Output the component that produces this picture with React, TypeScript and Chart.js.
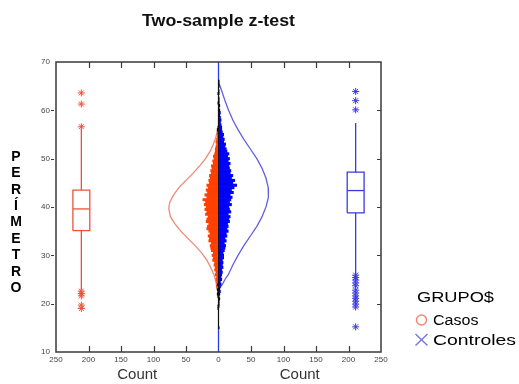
import React, { useEffect, useRef } from "react";
import { Chart, registerables } from "chart.js";

Chart.register(...registerables);

// ---------- text ----------
const TITLE = "Two-sample z-test";
const Y_TITLE = "PERÍMETRO";
const X_TITLE = "Count";
const LEGEND_TITLE = "GRUPO$";
const GROUP_NAMES = ["Casos", "Controles"];

// ---------- axes ----------
const X_TICKS = [-250, -200, -150, -100, -50, 0, 50, 100, 150, 200, 250];
const Y_TICKS = [10, 20, 30, 40, 50, 60, 70];

// ---------- histogram (bins of PERÍMETRO, starting at HIST_START, width HIST_STEP) ----------
const HIST_START = 15;
const HIST_STEP = 0.5;
const CASOS_COUNTS = [
  0, 0, 0, 0, 0, 0, 0, 0,
  1, 1, 0, 0, 0, 1, 2, 1, 2, 3, 2, 3, 4, 3, 5, 4, 6, 5, 7, 6, 9, 8,
  10, 8, 11, 12, 13, 11, 15, 14, 16, 13, 15, 18, 17, 15, 19, 18, 16, 20, 18, 21,
  19, 22, 20, 24, 18, 21, 17, 19, 16, 18, 14, 15, 13, 14, 11, 12, 10, 11, 8, 9,
  7, 8, 6, 5, 5, 4, 3, 4, 3, 2, 2, 1, 2, 1,
  0, 0, 0, 0, 0, 0, 0, 0, 0, 1, 0, 0, 0, 1, 0, 0, 0, 0, 0,
];
const CONTROLES_COUNTS = [
  1, 0, 0, 0, 0, 0, 0, 0, 0, 1,
  1, 1, 2, 1, 2, 3, 2, 3, 4, 3, 5, 4, 5, 6, 5, 7, 6, 7, 6, 8,
  8, 7, 9, 10, 11, 9, 12, 10, 13, 12, 15, 13, 15, 14, 17, 16, 18, 15, 19, 17,
  16, 20, 17, 19, 21, 18, 23, 20, 24, 28, 22, 25, 20, 22, 18, 19, 17, 16, 18, 15,
  17, 14, 16, 13, 12, 10, 11, 8, 9, 7, 8, 6, 5, 5, 4, 3, 4, 3, 2, 3,
  2, 1, 2, 1, 1, 1, 0, 1, 1, 0, 1, 1, 1,
];

// ---------- fitted normal curves (PERÍMETRO value, count) ----------
const CASOS_CURVE_VALUES = [56, 54.5, 53, 51.5, 50, 48.5, 47, 45.5, 44, 42.5, 41, 39.7, 38, 36.5, 35, 33.5, 32, 30.5, 29, 27.5, 26, 24.5, 23, 22.5];
const CASOS_CURVE_COUNTS = [1.5, 4, 8, 13, 20, 29, 39, 50, 61, 69, 75, 76.5, 74, 67, 58, 47, 36, 26, 18, 12, 7, 4, 2, 1];
const CONTROLES_CURVE_VALUES = [65.5, 64, 62, 60, 58, 56, 54, 52, 50, 48, 46, 44, 43, 42, 40, 38, 36, 34, 32, 30, 28, 26, 25, 24, 23.3];
const CONTROLES_CURVE_COUNTS = [1, 5, 10, 15.5, 22, 30, 39, 49, 59, 67, 73, 76.5, 77, 76.5, 73, 67, 59, 49, 39, 30, 22, 15, 10, 6, 2];

// ---------- box plots: [low whisker, Q1, median, Q3, high whisker] ----------
const CASOS_BOX = [22.8, 35.1, 39.6, 43.5, 56.2];
const CASOS_OUTLIERS = [63.6, 61.3, 56.6, 22.6, 22.1, 21.6, 19.7, 19.0];
const CONTROLES_BOX = [26.1, 38.8, 43.4, 47.2, 57.4];
const CONTROLES_OUTLIERS = [63.9, 62.0, 60.1, 25.9, 25.4, 24.9, 24.3, 23.7, 22.8, 22.2, 21.6, 21.1, 20.5, 19.9, 19.3, 15.2];
const BOX_CENTER = 211;
const BOX_HALF = 13;

// ---------- colours ----------
const RED_BAR = "#ff4000";
const BLUE_BAR = "#0000ff";
const RED_BOX = "#f0503a";
const BLUE_BOX = "#3a3ae0";
const RED_CURVE = "#f08878";
const BLUE_CURVE = "#6060e4";
const FONT = "'Liberation Sans', Arial, sans-serif";

function histData(counts: number[], sign: number) {
  const out: { x: number; y: number }[] = [];
  counts.forEach((c, i) => {
    if (c > 0) out.push({ y: HIST_START + i * HIST_STEP, x: sign * c });
  });
  return out;
}

function curveData(values: number[], counts: number[], sign: number) {
  return values.map((v, i) => ({ x: sign * counts[i], y: v }));
}

function lineDs(data: { x: number; y: number }[], color: string, width: number, order: number) {
  return {
    type: "line" as const,
    data,
    borderColor: color,
    backgroundColor: color,
    borderWidth: width,
    pointRadius: 0,
    fill: false,
    tension: 0,
    order,
  };
}

function boxDatasets(stats: number[], outliers: number[], center: number, color: string) {
  const [lo, q1, med, q3, hi] = stats;
  const l = center - BOX_HALF;
  const r = center + BOX_HALF;
  return [
    lineDs([{ x: l, y: q1 }, { x: r, y: q1 }, { x: r, y: q3 }, { x: l, y: q3 }, { x: l, y: q1 }], color, 1.3, 1),
    lineDs([{ x: l, y: med }, { x: r, y: med }], color, 1.3, 1),
    lineDs([{ x: center, y: q3 }, { x: center, y: hi }], color, 1.3, 1),
    lineDs([{ x: center, y: q1 }, { x: center, y: lo }], color, 1.3, 1),
    {
      type: "scatter" as const,
      data: outliers.map((v) => ({ x: center, y: v })),
      pointStyle: "star",
      pointRadius: 3.5,
      borderColor: color,
      backgroundColor: color,
      pointBorderWidth: 1,
      borderWidth: 1,
      order: 1,
    },
  ];
}

function extent(counts: number[]) {
  let lo = Infinity;
  let hi = -Infinity;
  counts.forEach((c, i) => {
    if (c > 0) {
      const v = HIST_START + i * HIST_STEP;
      lo = Math.min(lo, v);
      hi = Math.max(hi, v);
    }
  });
  return [lo, hi];
}

// draws text starting at x (or centred) stretched horizontally to a given width
function wideText(ctx: CanvasRenderingContext2D, text: string, x: number, y: number, width: number, align: "left" | "center") {
  const w = ctx.measureText(text).width;
  const k = width / w;
  ctx.save();
  ctx.textAlign = "left";
  const left = align === "center" ? x - width / 2 : x;
  ctx.translate(left, y);
  ctx.scale(k, 1);
  ctx.fillText(text, 0, 0);
  ctx.restore();
}

const overlayPlugin = {
  id: "overlay",
  afterDraw(chart: any) {
    const { ctx, chartArea: a, scales } = chart;
    const x = scales.x;
    const y = scales.y;
    ctx.save();
    const seg = (x1: number, y1: number, x2: number, y2: number) => {
      ctx.beginPath();
      ctx.moveTo(x1, y1);
      ctx.lineTo(x2, y2);
      ctx.stroke();
    };
    // frame
    ctx.strokeStyle = "#3a3a3a";
    ctx.lineWidth = 1.5;
    ctx.strokeRect(a.left, a.top, a.right - a.left, a.bottom - a.top);
    // inward x ticks, top and bottom
    ctx.lineWidth = 1.2;
    X_TICKS.forEach((v) => {
      if (v === 0 || v === X_TICKS[0] || v === X_TICKS[X_TICKS.length - 1]) return;
      const px = Math.round(x.getPixelForValue(v)) + 0.5;
      seg(px, a.bottom, px, a.bottom - 6);
      seg(px, a.top, px, a.top + 6);
    });
    // y ticks
    ctx.lineWidth = 1;
    Y_TICKS.forEach((v) => {
      if (v === Y_TICKS[0] || v === Y_TICKS[Y_TICKS.length - 1]) return;
      const py = Math.round(y.getPixelForValue(v)) + 0.5;
      seg(a.left - 5, py, a.left - 2, py);
      seg(a.right - 4, py, a.right, py);
    });

    // title
    ctx.fillStyle = "#111";
    ctx.textBaseline = "alphabetic";
    ctx.font = `bold 16.5px ${FONT}`;
    wideText(ctx, TITLE, (a.left + a.right) / 2, 26, 153, "center");

    // x titles
    const zero = x.getPixelForValue(0);
    ctx.fillStyle = "#333";
    ctx.font = `14px ${FONT}`;
    wideText(ctx, X_TITLE, (a.left + zero) / 2, 379, 40, "center");
    wideText(ctx, X_TITLE, (zero + a.right) / 2, 379, 40, "center");

    // y title, stacked letters
    ctx.fillStyle = "#000";
    ctx.font = `bold 14px ${FONT}`;
    ctx.textAlign = "center";
    ctx.textBaseline = "middle";
    Array.from(Y_TITLE).forEach((ch, i) => {
      ctx.fillText(ch, 16, 157 + i * 16.4);
    });

    // legend
    ctx.textBaseline = "alphabetic";
    ctx.fillStyle = "#000";
    ctx.font = `14px ${FONT}`;
    wideText(ctx, LEGEND_TITLE, 417, 301.5, 77, "left");
    wideText(ctx, GROUP_NAMES[0], 433, 325, 45.5, "left");
    wideText(ctx, GROUP_NAMES[1], 433, 345, 83, "left");
    ctx.strokeStyle = RED_CURVE;
    ctx.lineWidth = 1.5;
    ctx.beginPath();
    ctx.arc(421.5, 320, 5, 0, Math.PI * 2);
    ctx.stroke();
    ctx.strokeStyle = "#7676e0";
    ctx.lineWidth = 1.4;
    seg(415.5, 334, 427.5, 345.5);
    seg(415.5, 345.5, 427.5, 334);
    ctx.restore();
  },
};

export default function App() {
  const ref = useRef<HTMLCanvasElement>(null);
  useEffect(() => {
    if (!ref.current) return;
    Chart.defaults.font.family = FONT;
    const [casLo, casHi] = extent(CASOS_COUNTS);
    const [conLo, conHi] = extent(CONTROLES_COUNTS);
    const histLo = Math.min(casLo, conLo);
    const histHi = Math.max(casHi, conHi);

    const tailColor = (base: string) => (c: any) => {
      const raw = c.raw;
      if (!raw) return base;
      return Math.abs(raw.x) <= 2 && (raw.y < 25 || raw.y > 55) ? "#000" : base;
    };

    const datasets: any[] = [
      lineDs([{ x: 0, y: Y_TICKS[0] }, { x: 0, y: Y_TICKS[Y_TICKS.length - 1] }], "#2a3cf0", 1.3, 10),
      lineDs(curveData(CASOS_CURVE_VALUES, CASOS_CURVE_COUNTS, -1), RED_CURVE, 1.3, 6),
      lineDs(curveData(CONTROLES_CURVE_VALUES, CONTROLES_CURVE_COUNTS, 1), BLUE_CURVE, 1.3, 6),
      {
        type: "bar",
        data: histData(CASOS_COUNTS, -1),
        backgroundColor: tailColor(RED_BAR),
        borderWidth: 0,
        order: 4,
      },
      {
        type: "bar",
        data: histData(CONTROLES_COUNTS, 1),
        backgroundColor: tailColor(BLUE_BAR),
        borderWidth: 0,
        order: 4,
      },
      lineDs([{ x: 0, y: histLo }, { x: 0, y: histHi }], "#111", 1, 3),
      ...boxDatasets(CASOS_BOX, CASOS_OUTLIERS, -BOX_CENTER, RED_BOX),
      ...boxDatasets(CONTROLES_BOX, CONTROLES_OUTLIERS, BOX_CENTER, BLUE_BOX),
    ];

    const chart = new Chart(ref.current, {
      type: "bar",
      data: { datasets },
      options: {
        animation: false,
        responsive: false,
        devicePixelRatio: 1,
        indexAxis: "y",
        grouped: false,
        barPercentage: 1,
        categoryPercentage: 1,
        layout: { padding: { left: 26, right: 138, top: 62, bottom: 16 } },
        plugins: { legend: { display: false }, tooltip: { enabled: false }, title: { display: false } },
        scales: {
          x: {
            type: "linear",
            min: -250,
            max: 250,
            offset: false,
            afterBuildTicks: (s: any) => {
              s.ticks = X_TICKS.map((v) => ({ value: v }));
            },
            afterFit: (s: any) => {
              s.height = 16;
            },
            ticks: {
              autoSkip: false,
              maxRotation: 0,
              minRotation: 0,
              padding: 3,
              color: "#444",
              font: { size: 8, family: FONT },
              callback: (v: any) => String(Math.abs(Number(v))),
            },
            grid: { display: false, drawTicks: false, offset: false },
            border: { display: false },
          },
          y: {
            type: "linear",
            min: 10,
            max: 70,
            offset: false,
            afterBuildTicks: (s: any) => {
              s.ticks = Y_TICKS.map((v) => ({ value: v }));
            },
            afterFit: (s: any) => {
              s.width = 30;
            },
            ticks: {
              autoSkip: false,
              padding: 6,
              color: "#444",
              font: { size: 8, family: FONT },
              callback: (v: any) => String(v),
            },
            grid: { display: false, drawTicks: false, offset: false },
            border: { display: false },
          },
        },
      } as any,
      plugins: [overlayPlugin],
    } as any);
    return () => chart.destroy();
  }, []);

  return (
    <div style={{ position: "absolute", left: 0, top: 0, width: 519, height: 384, background: "#fff" }}>
      <canvas ref={ref} width={519} height={384} style={{ display: "block" }} />
    </div>
  );
}
